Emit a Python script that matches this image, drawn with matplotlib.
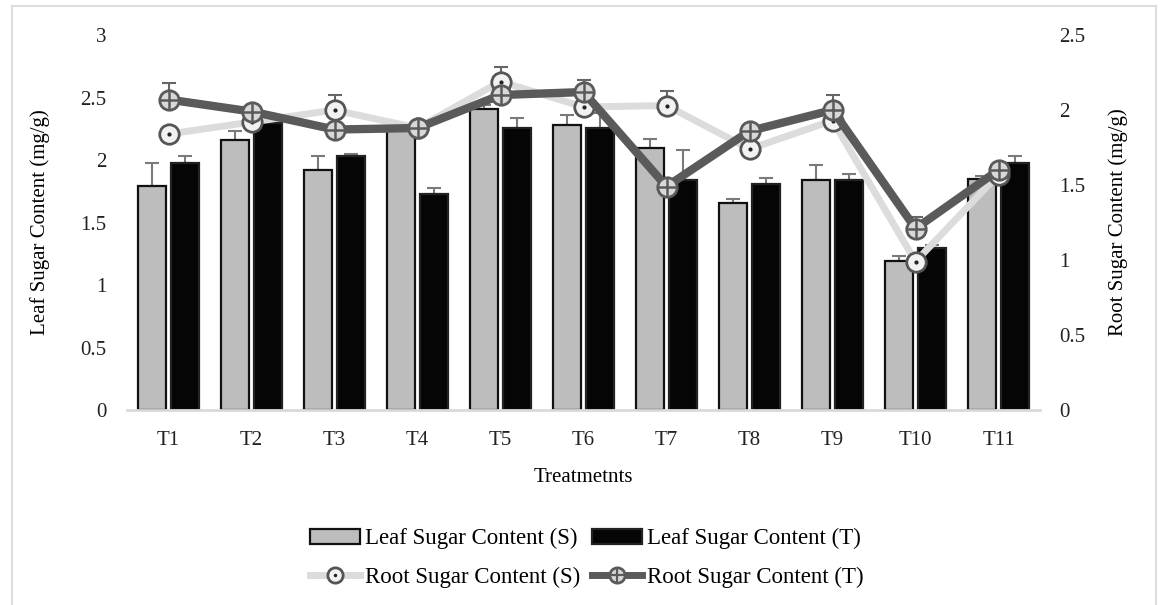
import matplotlib
matplotlib.use('Agg')
import matplotlib.pyplot as plt
from matplotlib.patches import Rectangle, Patch
from matplotlib.lines import Line2D
import numpy as np

plt.rcParams['font.family'] = ['Liberation Serif', 'DejaVu Serif']

### Data

treatments = ['T1', 'T2', 'T3', 'T4', 'T5', 'T6', 'T7', 'T8', 'T9', 'T10', 'T11']

leaf_s = [1.79, 2.16, 1.92, 2.24, 2.41, 2.28, 2.10, 1.66, 1.84, 1.19, 1.85]
leaf_s_err = [0.19, 0.07, 0.11, 0.03, 0.03, 0.08, 0.07, 0.03, 0.12, 0.04, 0.02]
leaf_t = [1.98, 2.30, 2.03, 1.73, 2.26, 2.26, 1.84, 1.81, 1.84, 1.30, 1.98]
leaf_t_err = [0.05, 0.03, 0.02, 0.05, 0.08, 0.12, 0.24, 0.05, 0.05, 0.02, 0.05]

root_s = [1.84, 1.92, 2.00, 1.88, 2.19, 2.02, 2.03, 1.74, 1.93, 0.99, 1.57]
root_s_err = [0.02, 0.02, 0.10, 0.02, 0.10, 0.02, 0.10, 0.02, 0.02, 0.02, 0.02]
root_t = [2.07, 1.99, 1.87, 1.88, 2.10, 2.12, 1.49, 1.86, 2.00, 1.21, 1.60]
root_t_err = [0.11, 0.02, 0.02, 0.02, 0.02, 0.08, 0.02, 0.02, 0.10, 0.08, 0.02]

### Figure

fig = plt.figure(figsize=(11.6, 6.05), dpi=100)
ax = fig.add_axes([0.1095, 0.3223, 0.7871, 0.6198])
ax2 = ax.twinx()

x = np.arange(len(treatments))
w = 0.33
off = 0.2

# bars (left axis)
ax.bar(x - off, leaf_s, w, color='#bdbdbd', edgecolor='#111111', linewidth=1.6, zorder=2)
ax.bar(x + off, leaf_t, w, color='#050505', edgecolor='#222222', linewidth=1.6, zorder=2)
ax.errorbar(x - off, leaf_s, yerr=[np.zeros(len(x)), leaf_s_err], fmt='none',
            ecolor='#7a7a7a', elinewidth=1.5, capsize=5, capthick=1.5, zorder=1)
ax.errorbar(x + off, leaf_t, yerr=[np.zeros(len(x)), leaf_t_err], fmt='none',
            ecolor='#7a7a7a', elinewidth=1.5, capsize=5, capthick=1.5, zorder=1)

# lines (right axis)
ax2.errorbar(x, root_s, yerr=[np.zeros(len(x)), root_s_err], fmt='none',
             ecolor='#666666', elinewidth=1.5, capsize=5, capthick=1.5, zorder=1)
ax2.errorbar(x, root_t, yerr=[np.zeros(len(x)), root_t_err], fmt='none',
             ecolor='#666666', elinewidth=1.5, capsize=5, capthick=1.5, zorder=1)
ax2.plot(x, root_s, color='#dcdcdc', linewidth=5, marker='o', markersize=14,
         markerfacecolor='#f2f2f2', markeredgecolor='#555555', markeredgewidth=2, zorder=3)
ax2.plot(x, root_s, linestyle='none', marker='.', markersize=4, color='#222222', zorder=4)
ax2.plot(x, root_t, color='#5a5a5a', linewidth=6, marker='o', markersize=14,
         markerfacecolor='#d8d8d8', markeredgecolor='#5a5a5a', markeredgewidth=2, zorder=5)
ax2.plot(x, root_t, linestyle='none', marker='+', markersize=13, markeredgewidth=1.8,
         color='#5a5a5a', zorder=6)

### Axes styling

ax.set_xlim(-0.5, len(x) - 0.5)
ax.set_ylim(0, 3)
ax2.set_ylim(0, 2.5)
ax.set_yticks([0, 0.5, 1, 1.5, 2, 2.5, 3])
ax.set_yticklabels(['0', '0.5', '1', '1.5', '2', '2.5', '3'])
ax2.set_yticks([0, 0.5, 1, 1.5, 2, 2.5])
ax2.set_yticklabels(['0', '0.5', '1', '1.5', '2', '2.5'])
ax.set_xticks(x)
ax.set_xticklabels(treatments)

for a in (ax, ax2):
    for s in ('top', 'left', 'right'):
        a.spines[s].set_visible(False)
    a.spines['bottom'].set_color('#d9d9d9')
    a.spines['bottom'].set_linewidth(2)
ax2.spines['bottom'].set_visible(False)

ax.tick_params(axis='both', length=0, labelsize=15, colors='#222222')
ax.tick_params(axis='y', pad=15)
ax.tick_params(axis='x', pad=15)
ax2.tick_params(axis='y', length=0, labelsize=15, pad=14, colors='#222222')

ax.set_xlabel('Treatmetnts', fontsize=15, labelpad=13)
ax.set_ylabel('Leaf Sugar Content (mg/g)', fontsize=15, labelpad=22)
ax2.set_ylabel('Root Sugar Content (mg/g)', fontsize=15, labelpad=16)

### Legend

h_bs = Patch(facecolor='#bdbdbd', edgecolor='#111111', linewidth=1.6)
h_bt = Patch(facecolor='#050505', edgecolor='#222222', linewidth=1.6)
h_ls = (Line2D([], [], color='#dcdcdc', linewidth=5, marker='o', markersize=11,
               markerfacecolor='#f2f2f2', markeredgecolor='#555555', markeredgewidth=2),
        Line2D([], [], linestyle='none', marker='.', markersize=3, color='#222222'))
h_lt = (Line2D([], [], color='#5a5a5a', linewidth=5, marker='o', markersize=11,
               markerfacecolor='#d8d8d8', markeredgecolor='#5a5a5a', markeredgewidth=2),
        Line2D([], [], linestyle='none', marker='+', markersize=10, markeredgewidth=1.6,
               color='#5a5a5a'))
fig.legend([h_bs, h_ls, h_bt, h_lt],
           ['Leaf Sugar Content (S)', 'Root Sugar Content (S)',
            'Leaf Sugar Content (T)', 'Root Sugar Content (T)'],
           ncol=2, loc='center', bbox_to_anchor=(0.506, 0.078), frameon=False,
           fontsize=16.5, handlelength=2.2, handleheight=0.65, handletextpad=0.22,
           columnspacing=0.5, labelspacing=0.75)

# chart border
fig.patches.append(Rectangle((12 / 1160, -0.05), (1156 - 12) / 1160, 1.05 - 6 / 605,
                             transform=fig.transFigure, fill=False,
                             edgecolor='#dedede', linewidth=1.5))

fig.savefig('out.png', dpi=100)
plt.close(fig)
